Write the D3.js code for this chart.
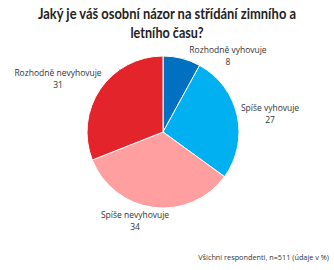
<!DOCTYPE html>
<html>
<head>
<meta charset="utf-8">
<script src="https://cdn.jsdelivr.net/npm/d3@7"></script>
<style>
    body { margin: 0; background: #fff; }
    svg { font-family: "Open Sans", "Noto Sans", sans-serif; }
</style>
</head>
<body>
<svg id="chart" width="334" height="270"></svg>
<script>
// data (údaje v %)
const categories = ["Rozhodně vyhovuje", "Spíše vyhovuje", "Spíše nevyhovuje", "Rozhodně nevyhovuje"];
const values = [8, 27, 34, 31];
const colors = ["#0070C0", "#00B0F0", "#FF9F9F", "#E3242B"];

// label anchors relative to pie centre (Excel "best fit" placement)
const labelOffsets = [[65, -79], [107, -21], [-28, 86], [-105, -56]];

const svg = d3.select("#chart");
const cx = 163, cy = 132, radius = 76;

const title = ["Jaký je váš osobní názor na střídání zimního a", "letního času?"];
const titleWidths = [258, 73];
svg.selectAll("text.title")
    .data(title)
    .enter()
    .append("text")
        .attr("class", "title")
        .attr("x", 167).attr("y", (d, i) => 19 + i * 19)
        .attr("text-anchor", "middle")
        .attr("font-family", "Lato, sans-serif")
        .attr("font-size", "14.5px").attr("font-weight", 700).attr("fill", "#222")
        .attr("textLength", (d, i) => titleWidths[i])
        .attr("lengthAdjust", "spacingAndGlyphs")
        .text(d => d);

const pie = d3.pie().sort(null).value(d => d.value);
const arc = d3.arc().innerRadius(0).outerRadius(radius);

const slices = pie(categories.map((c, i) => ({name: c, value: values[i], color: colors[i]})));

const g = svg.append("g").attr("transform", `translate(${cx},${cy})`);

g.selectAll("path")
    .data(slices)
    .enter()
    .append("path")
        .attr("d", arc)
        .attr("fill", d => d.data.color)
        .attr("stroke", "#fff")
        .attr("stroke-width", 1);

const labels = g.selectAll("g.label")
    .data(slices)
    .enter()
    .append("g")
        .attr("class", "label")
        .attr("transform", (d, i) => `translate(${labelOffsets[i][0]},${labelOffsets[i][1]})`);

labels.append("text")
    .attr("text-anchor", "middle")
    .attr("y", 0)
    .attr("font-size", "8.5px").attr("fill", "#333")
    .text(d => d.data.name);
labels.append("text")
    .attr("text-anchor", "middle")
    .attr("y", 11.5)
    .attr("font-size", "8.5px").attr("fill", "#333")
    .text(d => d.data.value);

svg.append("text")
    .attr("x", 329).attr("y", 260)
    .attr("text-anchor", "end")
    .attr("font-size", "7.3px").attr("fill", "#333")
    .text("Všichni respondenti, n=511 (údaje v %)");
</script>
</body>
</html>
